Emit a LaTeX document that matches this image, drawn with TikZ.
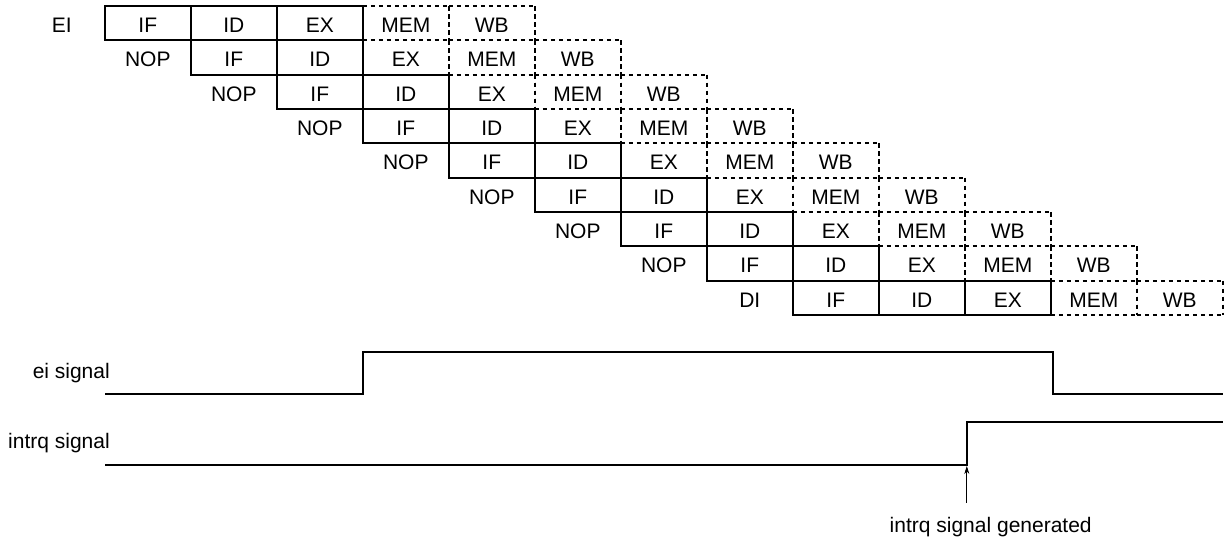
\documentclass[tikz,border=0pt]{standalone}
\usepackage{fontspec}
\setmainfont{Liberation Sans}
\usetikzlibrary{arrows.meta}
\begin{document}
\begin{tikzpicture}[x=1pt,y=-1pt,
  txt/.style={font=\fontsize{21}{25}\selectfont, inner sep=0pt, anchor=base},
  solidln/.style={line width=2pt},
  dashln/.style={line width=2pt, dash pattern=on 4.6pt off 3.4pt},
  sig/.style={line width=2pt},
]
\useasboundingbox (0,0) rectangle (1225,539);
% pass 1: dashed cells
\foreach \r in {0,...,8}{
  \foreach \st [count=\s from 0] in {IF,ID,EX,MEM,WB}{
    \pgfmathsetmacro\xa{104.8+86*(\r+\s)}
    \pgfmathsetmacro\xb{\xa+86}
    \pgfmathsetmacro\ya{6+34.33*\r}
    \pgfmathsetmacro\yb{\ya+34.33}
    \pgfmathtruncatemacro\issolid{or(\s<2, and(\s==2, or(\r==0,\r==8)))}
    \ifnum\issolid=0
      \draw[dashln] (\xa,\ya) -- (\xb,\ya);
      \draw[dashln] (\xa,\yb) -- (\xb,\yb);
      \draw[dashln] (\xa,\ya) -- (\xa,\yb);
      \draw[dashln] (\xb,\ya) -- (\xb,\yb);
    \fi
    \node[txt] (c\r-\s) at ({(\xa+\xb)/2},{\ya+26.5}) {\st};
  }
}
% pass 2: solid cells
\foreach \r in {0,...,8}{
  \foreach \s in {0,1,2}{
    \pgfmathsetmacro\xa{104.8+86*(\r+\s)}
    \pgfmathsetmacro\xb{\xa+86}
    \pgfmathsetmacro\ya{6+34.33*\r}
    \pgfmathsetmacro\yb{\ya+34.33}
    \pgfmathtruncatemacro\issolid{or(\s<2, and(\s==2, or(\r==0,\r==8)))}
    \ifnum\issolid=1
      \draw[solidln] (\xa,\ya) rectangle (\xb,\yb);
    \fi
  }
}
% row labels
\foreach \lab [count=\r from 0] in {EI,NOP,NOP,NOP,NOP,NOP,NOP,NOP,DI}{
  \pgfmathsetmacro\xc{104.8+86*(\r-1)+43}
  \pgfmathsetmacro\yc{6+34.33*\r+26.5}
  \node[txt] (lab\r) at (\xc,\yc) {\lab};
}
% signals
\node[txt, anchor=base east] (eil) at (110,378.3) {ei signal};
\node[txt, anchor=base east] (iql) at (110,448.3) {intrq signal};
\draw[sig] (105,394) -- (362.8,394) -- (362.8,351.7) -- (1052.8,351.7) -- (1052.8,394) -- (1223,394);
\draw[sig] (105,464.7) -- (966.8,464.7) -- (966.8,421.7) -- (1223,421.7);
\node[txt] (gen) at (990.7,532.3) {intrq signal generated};
\coordinate (arrS) at (966.8,502.7);
\coordinate (arrE) at (966.8,466);
\draw[line width=0.8pt, -{Stealth[length=8pt,width=5pt]}] (arrS) -- (arrE);
\end{tikzpicture}
\end{document}
